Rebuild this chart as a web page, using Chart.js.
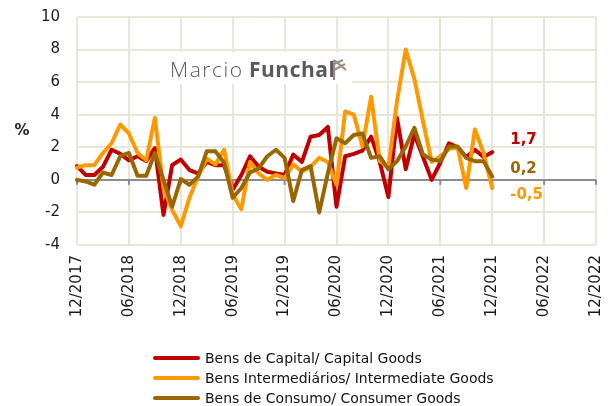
<!DOCTYPE html>
<html>
<head>
<meta charset="utf-8">
<script src="https://cdn.jsdelivr.net/npm/chart.js@4"></script>
<style>
body{margin:0;background:#fff;}
#wrap{position:relative;width:611px;height:406px;}
#legend{position:absolute;left:153px;top:348px;font:14px "DejaVu Sans",sans-serif;color:#111;}
#legend div{height:20px;display:flex;align-items:center;}
#legend span.sw{display:inline-block;width:47px;height:4px;border-radius:2px;margin-right:5px;}
</style>
</head>
<body>
<div id="wrap">
<canvas id="chart" width="611" height="406"></canvas>
<div id="legend"></div>
</div>
<script>
// months 12/2017 .. 12/2022 (axis), data through 12/2021
const months=[];
for(let k=0;k<=60;k++){
const m=(11+k)%12+1, y=2017+Math.floor((11+k)/12);
months.push((m<10?"0":"")+m+"/"+y);
}
const tickEvery=6;

const seriesNames=["Bens de Capital/ Capital Goods","Bens Intermediários/ Intermediate Goods","Bens de Consumo/ Consumer Goods"];
const seriesColors=["#C00000","#FF9900","#996600"];

const capital=[0.85,0.3,0.3,0.8,1.85,1.6,1.2,1.45,1.15,1.95,-2.15,0.9,1.25,0.6,0.4,1.1,0.9,0.9,-0.6,0.3,
1.45,0.8,0.5,0.4,0.3,1.55,1.1,2.65,2.75,3.25,-1.65,1.45,1.6,1.8,2.65,1.1,-1.05,3.8,0.65,2.8,
1.4,0.0,1.05,2.25,2.0,1.4,1.85,1.4,1.7];
const intermediate=[0.75,0.9,0.9,1.65,2.25,3.4,2.85,1.65,1.2,3.8,-0.5,-1.85,-2.85,-1.1,0.2,1.3,0.95,1.85,-0.9,-1.8,
1.1,0.4,0.0,0.3,0.1,0.95,0.5,0.8,1.35,1.1,-0.3,4.2,4.0,2.05,5.1,1.15,0.8,4.85,8.0,6.2,
3.6,1.1,1.45,1.9,2.0,-0.5,3.1,1.65,-0.5];
const consumo=[0.0,-0.1,-0.3,0.45,0.3,1.45,1.65,0.25,0.25,1.65,0.0,-1.65,0.05,-0.3,0.2,1.75,1.75,1.05,-1.1,-0.5,
0.45,0.7,1.45,1.85,1.35,-1.3,0.6,0.85,-2.0,0.4,2.55,2.25,2.75,2.85,1.35,1.45,0.65,1.15,2.05,3.2,
1.55,1.25,1.15,2.05,2.05,1.35,1.15,1.15,0.2];

const yTicks={min:-4,max:10,step:2};
const endLabelShift=[-12,7,-7]; // capital, intermediate, consumo

const gridColor="#e9e5d8";

const extras={
id:"extras",
beforeDatasetsDraw(chart){
const c=chart.ctx, x=chart.scales.x, y=chart.scales.y;
// zero axis tick marks
c.save();
c.strokeStyle="#8c8c8c";c.lineWidth=2;
const y0=y.getPixelForValue(0);
for(let i=0;i<months.length;i+=tickEvery){
const px=x.getPixelForValue(i);
c.beginPath();c.moveTo(px,y0);c.lineTo(px,y0+5);c.stroke();
}
// logo box
c.fillStyle="#fff";
c.fillRect(160,52,192,32);
c.fillStyle="#5a5a5a";
c.textBaseline="alphabetic";
c.letterSpacing="1.5px";
c.font='300 21px "Open Sans"';
c.fillText("Marcio",170,77);
c.letterSpacing="0.5px";
c.font='700 21px "Open Sans"';
c.fillText("Funchal",249,77);
c.strokeStyle="#9c8b80";c.lineWidth=2.2;
c.beginPath();
c.moveTo(334,80);c.lineTo(334,60);
c.moveTo(334,64);c.lineTo(343,60);
c.moveTo(334,70);c.lineTo(345,64);
c.moveTo(334,60);c.lineTo(346,70);
c.stroke();
c.restore();
},
afterDraw(chart){
const c=chart.ctx, x=chart.scales.x, y=chart.scales.y;
c.save();
c.font='bold 15px "DejaVu Sans"';
c.fillStyle="#222";
c.textAlign="center";c.textBaseline="middle";
c.fillText("%",22,131);
c.textAlign="left";
chart.data.datasets.forEach((ds,k)=>{
const last=ds.data.length-1;
const v=ds.data[last];
const px=x.getPixelForValue(last)+18;
const py=y.getPixelForValue(v)+endLabelShift[k];
c.fillStyle=seriesColors[k];
c.fillText(v.toFixed(1).replace(".",","),px,py);
});
c.restore();
}
};

new Chart(document.getElementById("chart"),{
type:"line",
data:{
labels:months,
datasets:[
{label:seriesNames[0],data:capital,borderColor:seriesColors[0],order:3},
{label:seriesNames[1],data:intermediate,borderColor:seriesColors[1],order:2},
{label:seriesNames[2],data:consumo,borderColor:seriesColors[2],order:1}
].map(d=>Object.assign(d,{borderWidth:4,pointRadius:0,tension:0,fill:false,borderJoinStyle:"round",borderCapStyle:"round"}))
},
options:{
responsive:false,
animation:false,
layout:{padding:{left:0,right:15,top:17,bottom:81}},
plugins:{legend:{display:false},tooltip:{enabled:false}},
scales:{
x:{
afterFit:s=>{s.height=80;s.paddingLeft=0;s.paddingRight=0;},
grid:{color:gridColor,lineWidth:2,drawTicks:false},
border:{display:false},
ticks:{
autoSkip:false,minRotation:90,maxRotation:90,padding:10,
color:"#1a1a1a",font:{family:"DejaVu Sans",size:15},
callback:(v,i)=>i%tickEvery===0?months[i]:null
}
},
y:{
min:yTicks.min,max:yTicks.max,
afterFit:s=>{s.width=77;s.paddingTop=0;s.paddingBottom=0;},
grid:{
color:ctx=>ctx.tick&&ctx.tick.value===0?"#8c8c8c":gridColor,
lineWidth:2,drawTicks:false
},
border:{display:false},
ticks:{stepSize:yTicks.step,padding:17,color:"#1a1a1a",font:{family:"DejaVu Sans",size:15}}
}
}
},
plugins:[extras]
});

const lg=document.getElementById("legend");
seriesNames.forEach((n,k)=>{
const row=document.createElement("div");
const sw=document.createElement("span");
sw.className="sw";sw.style.background=seriesColors[k];
row.appendChild(sw);
row.appendChild(document.createTextNode(n));
lg.appendChild(row);
});
</script>
</body>
</html>
